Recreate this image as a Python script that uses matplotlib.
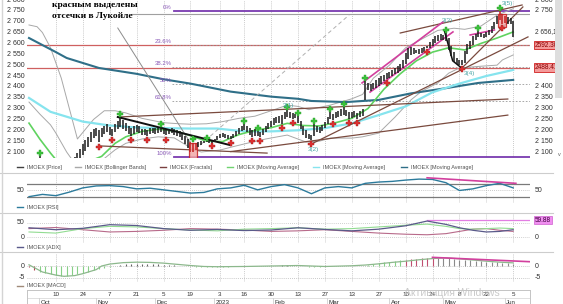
import numpy as np
import pandas as pd
import matplotlib
matplotlib.use('Agg')
import matplotlib.pyplot as plt
from matplotlib.patches import Rectangle
from matplotlib.lines import Line2D

plt.rcParams['font.family'] = ['Liberation Sans', 'DejaVu Sans']

# ---------------- data ----------------
first_day = '2022-09-26'

bar_high = [
    2065, 2045, 2020, 2060, 2080, 2060, 2035, 2005, 1990, 1985,
    1995, 2005, 2015, 2025, 2035, 2045, 2060, 2075, 2095, 2115,
    2135, 2155, 2170, 2190, 2205, 2212, 2200, 2210, 2222, 2230,
    2215, 2205, 2228, 2245, 2258, 2248, 2235, 2222, 2210, 2218,
    2225, 2220, 2208, 2205, 2200, 2210, 2212, 2210, 2212, 2215,
    2208, 2202, 2206, 2210, 2205, 2200, 2195, 2185, 2172, 2158,
    2145, 2140, 2140, 2148, 2150, 2152, 2156, 2152, 2150, 2160,
    2172, 2185, 2188, 2185, 2178, 2175, 2185, 2198, 2212, 2222,
    2230, 2222, 2210, 2200, 2205, 2195, 2192, 2205, 2218, 2232,
    2245, 2255, 2262, 2268, 2272, 2285, 2292, 2285, 2280, 2275,
    2265, 2245, 2222, 2200, 2185, 2180, 2228, 2222, 2215, 2225,
    2240, 2262, 2283, 2275, 2282, 2290, 2298, 2306, 2295, 2285,
    2282, 2288, 2280, 2290, 2300, 2426, 2420, 2412, 2418, 2430,
    2440, 2448, 2455, 2462, 2470, 2478, 2488, 2495, 2505, 2525,
    2555, 2578, 2585, 2578, 2572, 2575, 2580, 2585, 2590, 2605,
    2620, 2632, 2640, 2645, 2640, 2650, 2625, 2590, 2560, 2535,
    2525, 2525, 2565, 2598, 2612, 2632, 2645, 2656, 2650, 2645,
    2652, 2662, 2680, 2700, 2725, 2748, 2735, 2728, 2720, 2718,
    2705,
]
bar_low = [
    1995, 1975, 1950, 1990, 2015, 1995, 1965, 1945, 1930, 1925,
    1935, 1950, 1960, 1975, 1985, 1995, 2010, 2025, 2045, 2065,
    2085, 2105, 2125, 2145, 2165, 2175, 2145, 2170, 2185, 2192,
    2180, 2175, 2190, 2205, 2215, 2208, 2195, 2185, 2175, 2182,
    2190, 2186, 2180, 2178, 2175, 2182, 2186, 2185, 2188, 2190,
    2182, 2178, 2182, 2186, 2180, 2176, 2168, 2155, 2138, 2118,
    2100, 2100, 2110, 2122, 2132, 2140, 2145, 2142, 2140, 2148,
    2155, 2165, 2168, 2165, 2162, 2160, 2165, 2175, 2185, 2195,
    2200, 2192, 2180, 2170, 2175, 2172, 2170, 2178, 2190, 2205,
    2215, 2225, 2235, 2235, 2230, 2250, 2260, 2258, 2253, 2255,
    2235, 2205, 2180, 2165, 2160, 2157, 2175, 2190, 2188, 2195,
    2210, 2228, 2250, 2249, 2255, 2262, 2268, 2272, 2265, 2254,
    2258, 2262, 2254, 2262, 2265, 2340, 2385, 2380, 2388, 2395,
    2405, 2415, 2425, 2438, 2442, 2450, 2458, 2465, 2472, 2485,
    2505, 2530, 2545, 2550, 2555, 2552, 2558, 2560, 2580, 2580,
    2590, 2602, 2612, 2618, 2615, 2610, 2570, 2540, 2515, 2505,
    2500, 2502, 2510, 2550, 2575, 2595, 2618, 2630, 2628, 2625,
    2630, 2638, 2648, 2665, 2688, 2708, 2690, 2692, 2688, 2690,
    2628,
]
last_close = 2656.10

fractal_up_idx = [4, 34, 49, 61, 66, 80, 85, 96, 100, 106, 112, 117, 125, 155, 167, 175]
fractal_up_val = [2095, 2275, 2229, 2158, 2165, 2243, 2210, 2307, 2280, 2243, 2298, 2321, 2441, 2662, 2671, 2763]
fractal_dn_idx = [26, 31, 38, 44, 51, 68, 75, 83, 86, 94, 98, 105, 113, 119, 122, 133, 148, 161, 176]
fractal_dn_val = [2123, 2155, 2155, 2155, 2157, 2128, 2141, 2150, 2150, 2210, 2233, 2137, 2229, 2234, 2234, 2418, 2560, 2482, 2671]

wave_labels = [(96.3, 2316, '3(1)'), (105.6, 2112, '3(2)'), (155.4, 2706, '3(3)'),
               (163.6, 2462, '3(4)'), (177.7, 2786, '3(5)')]

ma_fast_idx = [0, 4, 8, 10, 14, 18, 22, 27, 32, 36, 42, 48, 55, 60, 66, 72, 78, 84, 90, 96,
               102, 108, 114, 120, 126, 132, 138, 144, 150, 156, 162, 168, 174, 180]
ma_fast = [2233, 2160, 2095, 2065, 2030, 2035, 2055, 2080, 2140, 2170, 2195, 2205, 2195, 2175,
           2150, 2148, 2180, 2200, 2212, 2232, 2222, 2220, 2235, 2255, 2300, 2390, 2460, 2520,
           2560, 2580, 2570, 2600, 2625, 2653]
ma_mid_idx = [0, 8, 20, 30, 40, 50, 60, 70, 80, 90, 100, 110, 120, 130, 140, 150, 160, 170, 180]
ma_mid = [2349, 2285, 2240, 2222, 2213, 2210, 2208, 2208, 2195, 2195, 2200, 2210, 2232, 2270,
          2310, 2375, 2415, 2450, 2478]
ma_slow_idx = [0, 10, 14, 26, 40, 50, 60, 75, 90, 100, 105, 118, 130, 142, 155, 167, 180]
ma_slow = [2625, 2560, 2533, 2487, 2460, 2435, 2415, 2378, 2355, 2345, 2335, 2330, 2340, 2370,
           2394, 2418, 2432]

bb_up_idx = [0, 3, 5, 8, 12, 15, 18, 20, 24, 28, 32, 36, 42, 50, 56, 60, 66, 72, 78, 84, 90,
             96, 100, 104, 112, 120, 124, 128, 134, 140, 146, 152, 158, 162, 168, 174, 180]
bb_up = [2685, 2677, 2650, 2580, 2440, 2300, 2160, 2190, 2250, 2290, 2290, 2280, 2255, 2235,
         2230, 2228, 2230, 2240, 2255, 2265, 2290, 2316, 2310, 2295, 2316, 2345, 2365, 2440,
         2500, 2580, 2620, 2660, 2670, 2665, 2680, 2730, 2760]
bb_lo_idx = [0, 4, 8, 10, 14, 18, 24, 28, 32, 36, 42, 48, 54, 60, 64, 71, 76, 83, 88, 96, 103,
             108, 112, 120, 124, 130, 136, 142, 146, 152, 156, 160, 168, 174, 176, 180]
bb_lo = [2330, 2275, 2225, 2187, 2100, 2030, 2020, 2070, 2110, 2140, 2160, 2170, 2165, 2120,
         2100, 2109, 2125, 2146, 2160, 2178, 2146, 2150, 2164, 2164, 2170, 2187, 2260, 2340,
         2380, 2418, 2463, 2487, 2495, 2500, 2524, 2547]

fib_top, fib_bottom = 2750, 2078
fib_levels = [0, 23.6, 38.2, 50, 61.8, 100]
red_levels = [2592.30, 2488.41]
gray_level = 2737

# user trend lines: (idx0, price0, idx1, price1)
brown_lines = [(33, 2261, 178, 2344), (26.4, 2128, 88.5, 2095), (75, 2102, 178, 2270),
               (105, 2137, 185.5, 2630), (138, 2648, 183.3, 2777), (161.3, 2491, 183.6, 2768)]
magenta_lines = [(123.8, 2418, 153.9, 2699), (126.8, 2376, 157.6, 2653), (164, 2639, 173, 2662)]
black_line = (33, 2261, 74.7, 2132)
black_zigzag_idx = [154.5, 157.5, 161]
black_zigzag_val = [2655, 2520, 2485]
gray_line = (33, 2671, 61.7, 2109)
gray_dashed = (63.6, 2132, 119, 2731)
cutoff_boxes = [(59.5, 62.5, 2072, 2140), (174.5, 177.5, 2676, 2735)]

rsi_idx = list(range(0, 181, 5))
rsi_val = [31, 38, 34, 45, 58, 64, 65, 62, 55, 57,
           52, 47, 42, 44, 55, 58, 66, 52, 62, 68,
           58, 40, 58, 62, 58, 72, 76, 78, 82, 85,
           84, 74, 50, 55, 65, 72, 58]
rsi_trend = (148, 89, 181, 72)

adx_idx = [0, 10, 20, 30, 40, 50, 60, 70, 80, 90, 100, 110, 120, 130, 140, 148, 155, 160, 165, 170, 175, 180]
adx_line = [33, 26, 31, 44, 41, 30, 24, 27, 23, 25, 33, 27, 22, 28, 40, 57, 45, 33, 24, 18, 20, 26]
pdi_line = [18, 14, 30, 38, 36, 30, 25, 22, 28, 30, 33, 28, 30, 36, 42, 46, 38, 30, 28, 30, 32, 30]
mdi_line = [30, 34, 26, 18, 20, 24, 30, 28, 25, 20, 22, 26, 20, 14, 10, 8, 12, 20, 28, 30, 24, 20]
adx_mark = 59.88

macd_hist_idx = list(range(0, 181, 2))
macd_hist = [
    -0.5, -1.5, -2.4, -3.0, -3.5, -3.9, -4.1, -4.0, -3.7, -3.3,
    -2.8, -2.3, -1.8, -1.3, -0.8, -0.3, 0.2, 0.6, 0.8, 0.9,
    0.9, 0.9, 0.8, 0.8, 0.7, 0.6, 0.5, 0.4, 0.2, 0.0,
    -0.2, -0.3, -0.4, -0.4, -0.4, -0.3, -0.3, -0.3, -0.2, -0.1,
    0.0, 0.0, -0.1, -0.1, 0.0, 0.1, 0.2, 0.3, 0.3, 0.2,
    0.0, -0.2, -0.4, -0.4, -0.3, -0.2, -0.1, 0.0, 0.1, 0.1,
    0.1, 0.1, 0.2, 0.6, 0.9, 1.2, 1.5, 1.8, 2.0, 2.3,
    2.6, 2.9, 3.1, 3.2, 3.3, 3.4, 3.5, 3.5, 3.3, 3.0,
    2.6, 2.4, 2.3, 2.2, 2.0, 1.8, 1.6, 1.5, 1.3, 1.1,
    0.9,
]
macd_sig_idx = [0, 5, 10, 13, 17, 20, 25, 27, 30, 35, 40, 45, 50, 55, 60, 65, 70, 80, 90, 100,
                110, 120, 125, 130, 135, 140, 145, 150, 155, 160, 165, 170, 175, 180]
macd_sig = [0.5, -2.5, -3.8, -4.3, -4.0, -3.2, -1.5, 0.0, 0.8, 1.4, 1.6, 1.5, 1.2, 0.7, 0.2,
            -0.2, -0.3, -0.2, 0.0, 0.2, -0.2, 0.1, 0.4, 0.9, 1.5, 2.0, 2.6, 3.1, 3.4, 3.0,
            2.5, 2.0, 1.6, 1.3]
macd_trend = (150, 3.6, 186, 1.8)

day_ticks = ['2022-10-10', '2022-10-24', '2022-11-07', '2022-11-21', '2022-12-05', '2022-12-19',
             '2023-01-03', '2023-01-16', '2023-01-30', '2023-02-13', '2023-02-27', '2023-03-13',
             '2023-03-27', '2023-04-10', '2023-04-24', '2023-05-08', '2023-05-22', '2023-06-05']
month_starts = ['2022-10-03', '2022-11-01', '2022-12-01', '2023-01-02', '2023-02-01',
                '2023-03-01', '2023-04-03', '2023-05-01', '2023-06-01']
month_names = ['Oct', 'Nov', 'Dec', '2023', 'Feb', 'Mar', 'Apr', 'May', 'Jun']

assert len(bar_high) == len(bar_low) and len(rsi_idx) == len(rsi_val)
assert len(macd_hist_idx) == len(macd_hist)

# ---------------- layout ----------------
W, H = 563, 304
fig = plt.figure(figsize=(W / 100, H / 100), dpi=100)
fig.patch.set_facecolor('white')

def px_rect(x0, y0, x1, y1):
    return [x0 / W, 1 - y1 / H, (x1 - x0) / W, (y1 - y0) / H]

def fx(px):
    return px / W

def fy(py):
    return 1 - py / H

PX0, PXD = 29.0, 2.69          # pixel of day 0, pixels per trading day
XL, XR = 27, 530
xlim = ((XL - PX0) / PXD, (XR - PX0) / PXD)

dates = pd.bdate_range(first_day, periods=len(bar_high))
days = np.arange(len(bar_high))
tick_pos = dates.get_indexer(pd.to_datetime(day_ticks))
month_pos = dates.get_indexer(pd.to_datetime(month_starts))

LBL = '#303030'
def side_label(ax, y, text, side='left', size=5, **kw):
    x = -0.005 if side == 'left' else 1.01
    ax.text(x, y, text, transform=ax.get_yaxis_transform(), ha='right' if side == 'left' else 'left',
            va='center', fontsize=size, color=kw.pop('color', LBL), clip_on=False, zorder=10, **kw)

def panel(y0, y1, ylim):
    ax = fig.add_axes(px_rect(XL, y0, XR, y1))
    ax.set_xlim(*xlim)
    ax.set_ylim(*ylim)
    ax.set_xticks([])
    ax.set_yticks([])
    for s in ax.spines.values():
        s.set_visible(False)
    ax.patch.set_alpha(0)
    for t in tick_pos:
        ax.axvline(t, color='#b8b8b8', lw=0.6, ls=(0, (1, 1.5)), zorder=0)
    return ax

def seg(ax, ln, **kw):
    ax.plot([ln[0], ln[2]], [ln[1], ln[3]], **kw)

# ---------------- main price panel ----------------
ax = panel(0, 158, (2072.4, 2800))

for lv in red_levels:
    ax.axhline(lv, color='#cf6060', lw=0.9, zorder=1)
ax.plot([38.3, xlim[1]], [gray_level] * 2, color='#a0a0a0', lw=0.8, zorder=1)

fib_x0 = 54
for lv in fib_levels:
    price = fib_top - (fib_top - fib_bottom) * lv / 100
    if lv in (0, 100):
        ax.plot([fib_x0, xlim[1]], [price] * 2, color='#7a3ab0', lw=1.3, zorder=1)
    else:
        ax.plot([fib_x0 - 1, xlim[1]], [price] * 2, color='#9a9a9a', lw=0.6, ls=(0, (2, 2)), zorder=1)
    ax.text(fib_x0 - 1, price + 4, f'{lv:g}%', ha='right', va='bottom', fontsize=4.3,
            color='#8a5ab8', zorder=6)

ax.plot(bb_up_idx, bb_up, color='#a8a8a8', lw=0.7, zorder=2)
ax.plot(bb_lo_idx, bb_lo, color='#a8a8a8', lw=0.7, zorder=2)
ax.plot(ma_slow_idx, ma_slow, color='#2f6f88', lw=1.5, zorder=2)
ax.plot(ma_mid_idx, ma_mid, color='#86e4ee', lw=1.6, zorder=2)
ax.plot(ma_fast_idx, ma_fast, color='#5fd35f', lw=1.2, zorder=2)

for ln in brown_lines:
    seg(ax, ln, color='#7a4a3e', lw=0.9, zorder=3)
for ln in magenta_lines:
    seg(ax, ln, color='#d2409e', lw=1.2, zorder=3)
seg(ax, gray_line, color='#8c8c8c', lw=0.7, zorder=3)
seg(ax, gray_dashed, color='#b0b0b0', lw=0.7, ls=(0, (4, 3)), zorder=3)
seg(ax, black_line, color='#101010', lw=1.4, zorder=3)
ax.plot(black_zigzag_idx, black_zigzag_val, color='#101010', lw=1.1, zorder=3)

bar_colors = []
for i in days:
    inside = any(b[0] <= i <= b[1] for b in cutoff_boxes)
    bar_colors.append('#c42020' if inside else '#1a1a1a')
for b in cutoff_boxes:
    ax.add_patch(Rectangle((b[0], b[2]), b[1] - b[0], b[3] - b[2], facecolor='#f2a8a8',
                           edgecolor='#c82020', lw=0.9, alpha=0.85, zorder=3.5))
ax.vlines(days, bar_low, bar_high, colors=bar_colors, lw=1.1, zorder=4)

ax.plot(fractal_up_idx, fractal_up_val, ls='none', marker='P', ms=4, color='#3cc43c',
        mec='#2a9a2a', mew=0.3, zorder=5)
ax.plot(fractal_dn_idx, fractal_dn_val, ls='none', marker='P', ms=4, color='#e03030',
        mec='#a02020', mew=0.3, zorder=5)
for xi, yi, t in wave_labels:
    ax.text(xi, yi, t, fontsize=4.6, color='#4aa6a6', ha='center', va='center', zorder=6)

for v in range(2100, 2801, 50):
    lab = f'{v // 1000} {v % 1000:03d}'
    side_label(ax, v, lab, 'left')
    if min(abs(v - r) for r in red_levels + [last_close]) > 45:
        side_label(ax, v, lab, 'right')
side_label(ax, last_close, '2 656,10', 'right', size=4.7,
           bbox=dict(facecolor='white', edgecolor='none', pad=0.4))
for lv in red_levels:
    side_label(ax, lv, f'{lv:.2f}', 'right', size=4.7, color='#8a0000',
               bbox=dict(facecolor='#f49a9a', edgecolor='#d02020', lw=0.6, pad=0.6))

fig.text(fx(52), fy(5), 'красным выделены', family='Liberation Serif', weight='bold',
         fontsize=6.8, color='black', va='center', ha='left')
fig.text(fx(52), fy(15.5), 'отсечки в Лукойле', family='Liberation Serif', weight='bold',
         fontsize=6.8, color='black', va='center', ha='left')

# ---------------- RSI ----------------
ax_rsi = panel(173, 203, (11.5, 103.8))
ax_rsi.axhline(70, color='#7a7a7a', lw=0.9)
ax_rsi.axhline(30, color='#7a7a7a', lw=0.9)
ax_rsi.axhline(50, color='#b8b8b8', lw=0.6, ls=(0, (1, 1.5)))
ax_rsi.plot(rsi_idx, rsi_val, color='#2c7b9c', lw=1.0)
seg(ax_rsi, rsi_trend, color='#d2409e', lw=1.2)
side_label(ax_rsi, 50, '50', 'left')
side_label(ax_rsi, 50, '50', 'right')

# ---------------- ADX ----------------
ax_adx = panel(213, 243, (-21.4, 85.7))
for v in (0, 50):
    ax_adx.axhline(v, color='#c0c0c0', lw=0.6, ls=(0, (1, 1.5)))
ax_adx.plot([148, xlim[1]], [adx_mark] * 2, color='#e27ee2', lw=0.9)
ax_adx.plot(adx_idx, mdi_line, color='#b86a8a', lw=0.8)
ax_adx.plot(adx_idx, pdi_line, color='#92dc92', lw=0.8)
ax_adx.plot(adx_idx, adx_line, color='#5a5a8a', lw=0.9)
side_label(ax_adx, 50, '50', 'left')
side_label(ax_adx, 0, '0', 'left')
side_label(ax_adx, 0, '0', 'right')
side_label(ax_adx, adx_mark, f'{adx_mark:.2f}', 'right', size=4.7, color='#400040',
           bbox=dict(facecolor='#f08ef0', edgecolor='#d060d0', lw=0.5, pad=0.5))

# ---------------- MACD ----------------
ax_macd = panel(253, 282, (-6.67, 5.42))
for v in (0, -5):
    ax_macd.axhline(v, color='#b8b8b8', lw=0.6, ls=(0, (1, 1.5)))
hist_colors = []
for i, v in zip(macd_hist_idx, macd_hist):
    if i < 4:
        hist_colors.append('#b04050')
    elif v < 0 or i < 30:
        hist_colors.append('#86d086')
    elif i < 126:
        hist_colors.append('#606060')
    elif i < 140:
        hist_colors.append('#86d086')
    elif i < 152:
        hist_colors.append('#c05070')
    else:
        hist_colors.append('#8a8a8a')
ax_macd.vlines(macd_hist_idx, 0, macd_hist, colors=hist_colors, lw=0.8)
ax_macd.plot(macd_sig_idx, macd_sig, color='#8cb88c', lw=0.9)
seg(ax_macd, macd_trend, color='#d2409e', lw=1.2)
side_label(ax_macd, 0, '0', 'left')
side_label(ax_macd, -5, '-5', 'left')
side_label(ax_macd, 0, '0', 'right')
side_label(ax_macd, -5, '-5', 'right')

# ---------------- legends ----------------
def legend_row(y, items):
    for x, col, txt in items:
        fig.add_artist(Line2D([fx(x), fx(x + 6)], [fy(y), fy(y)], color=col, lw=1.0))
        fig.text(fx(x + 10), fy(y), txt, fontsize=4, color='#505050', va='center', ha='left')

legend_row(167, [(17, '#404040', 'IMOEX [Price]'), (75, '#a8a8a8', 'IMOEX [Bollinger Bands]'),
                 (160, '#7a4040', 'IMOEX [Fractals]'), (227, '#6fd36f', 'IMOEX [Moving Average]'),
                 (313, '#86e4ee', 'IMOEX [Moving Average]'), (401, '#2f6f88', 'IMOEX [Moving Average]')])
legend_row(207, [(17, '#2c7b9c', 'IMOEX [RSI]')])
legend_row(247, [(17, '#5a5a8a', 'IMOEX [ADX]')])
legend_row(286, [(17, '#a08a7a', 'IMOEX [MACD]')])

for y in (172.5, 212.5, 251.5):
    fig.add_artist(Line2D([fx(0), fx(553)], [fy(y), fy(y)], color='#cdcdcd', lw=0.8))
fig.add_artist(Line2D([fx(1.5), fx(1.5)], [fy(0), fy(304)], color='#d4d4d4', lw=1.0))

# scrollbar on the right
fig.add_artist(Rectangle((fx(555), fy(98)), fx(7), 98 / H, facecolor='#dedede', edgecolor='none'))
fig.text(fx(559), fy(155), 'v', fontsize=4, color='#606060', ha='center', va='center')

# ---------------- date strip ----------------
ax_d = fig.add_axes(px_rect(XL, 290, XR, 304))
ax_d.set_xlim(*xlim)
ax_d.set_ylim(14, 0)
ax_d.set_xticks([])
ax_d.set_yticks([])
for k, s in ax_d.spines.items():
    s.set_color('#c4c4c4')
    s.set_linewidth(0.7)
ax_d.spines['bottom'].set_visible(False)
ax_d.axhline(7.5, color='#dadada', lw=0.6)
for t, d in zip(tick_pos, day_ticks):
    ax_d.text(t, 4.6, str(pd.Timestamp(d).day), fontsize=4.5, color=LBL, ha='center', va='center')
for t, m in zip(month_pos, month_names):
    ax_d.plot([t - 1.2, t - 1.2], [7.5, 14], color='#d0d0d0', lw=0.6)
    ax_d.text(t - 0.6, 12.2, m, fontsize=4.5, color=LBL, ha='left', va='center')

fig.text(fx(404), fy(293.5), 'Активация Windows', fontsize=7.5, color='#c4c4c4', alpha=0.9,
         ha='left', va='center')

fig.savefig('out.png', dpi=100)
